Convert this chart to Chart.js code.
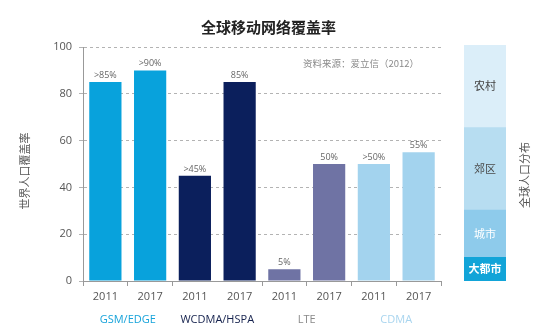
<!DOCTYPE html>
<html>
<head>
<meta charset="utf-8">
<script src="https://cdn.jsdelivr.net/npm/chart.js@4.4.1/dist/chart.umd.min.js"></script>
<style>
  html, body { margin: 0; padding: 0; background: #fff; }
  #wrap { position: relative; width: 547px; height: 326px; }
  #main { position: absolute; left: 0; top: 0; }
  #dist { position: absolute; left: 455px; top: 0; }
</style>
</head>
<body>
<div id="wrap">
  <canvas id="main" width="547" height="326"></canvas>
  <canvas id="dist" width="92" height="326"></canvas>
</div>
<script>
// Coverage of world population by mobile network technology
const years = ['2011', '2017', '2011', '2017', '2011', '2017', '2011', '2017'];
const coverage = [85, 90, 45, 85, 5, 50, 50, 55];
const coverageLabels = ['>85%', '>90%', '>45%', '85%', '5%', '50%', '>50%', '55%'];
const technologies = ['GSM/EDGE', 'WCDMA/HSPA', 'LTE', 'CDMA'];
const yTicks = [0, 20, 40, 60, 80, 100];

// Global population distribution
const regions = ['大都市', '城市', '郊区', '农村'];
const populationShare = [10, 20, 35, 35];

const techBarColors = ['#08a2dc', '#0b1f5c', '#6f73a4', '#a3d3ee'];
const techTextColors = ['#17a3da', '#14214d', '#8a8a8a', '#a9d5ef'];
const regionColors = ['#12a4d8', '#8ecbeb', '#b7ddf1', '#dbeef9'];
const regionTextColors = ['#ffffff', '#ffffff', '#4a4a4a', '#444444'];

const LATIN = '"Open Sans", "Noto Sans CJK SC", sans-serif';
const CJK = '"Noto Sans CJK SC", sans-serif';

function drawVertical(ctx, text, x, y, font, color) {
  ctx.save();
  ctx.translate(x, y);
  ctx.rotate(-Math.PI / 2);
  ctx.font = font;
  ctx.fillStyle = color;
  ctx.textAlign = 'center';
  ctx.textBaseline = 'middle';
  ctx.fillText(text, 0, 0);
  ctx.restore();
}

const coverageNotes = {
  id: 'coverageNotes',
  afterDatasetsDraw(chart) {
    const { ctx, chartArea } = chart;
    const meta = chart.getDatasetMeta(0);
    ctx.save();
    ctx.font = '9px ' + LATIN;
    ctx.fillStyle = '#666';
    ctx.textAlign = 'center';
    ctx.textBaseline = 'bottom';
    meta.data.forEach((bar, i) => ctx.fillText(coverageLabels[i], bar.x, bar.y - 2));
    ctx.font = '9.5px ' + CJK;
    ctx.fillStyle = '#8a8a8a';
    ctx.textAlign = 'left';
    ctx.textBaseline = 'middle';
    ctx.fillText('资料来源：爱立信（2012）', chartArea.left + 220, chartArea.top + 16);
    ctx.restore();
    drawVertical(ctx, '世界人口覆盖率', 25, 171, '11px ' + CJK, '#555');
  }
};

new Chart(document.getElementById('main'), {
  type: 'bar',
  data: {
    labels: years,
    datasets: [{
      data: coverage,
      backgroundColor: coverage.map((v, i) => techBarColors[Math.floor(i / 2)]),
      borderWidth: 0,
      barPercentage: 0.72,
      categoryPercentage: 1
    }]
  },
  options: {
    responsive: false,
    animation: false,
    layout: { padding: { left: 0, right: 10, top: 0, bottom: 0 } },
    plugins: {
      legend: { display: false },
      tooltip: { enabled: false },
      title: {
        display: true,
        text: '全球移动网络覆盖率',
        color: '#222',
        font: { family: CJK, size: 15, weight: 'bold', lineHeight: 1.2 },
        padding: { top: 18, bottom: 11 }
      }
    },
    scales: {
      x: {
        position: 'bottom',
        grid: {
          drawOnChartArea: false,
          drawTicks: true,
          tickLength: 5,
          offset: true,
          color: (c) => (c.index === 3 ? 'rgba(0,0,0,0)' : '#999')
        },
        border: { color: '#999', width: 1 },
        ticks: { color: '#555', font: { family: LATIN, size: 11 }, padding: 4 },
        afterFit: (s) => { s.height = 26; }
      },
      x2: {
        type: 'category',
        labels: technologies,
        position: 'bottom',
        offset: true,
        grid: { display: false, drawTicks: false },
        border: { display: false },
        ticks: {
          color: (c) => techTextColors[c.index],
          font: { family: LATIN, size: 11 },
          padding: 6
        },
        afterFit: (s) => { s.height = 19; }
      },
      y: {
        min: 0,
        max: 100,
        afterBuildTicks: (s) => { s.ticks = yTicks.map((v) => ({ value: v })); },
        grid: { color: '#b3b3b3', tickLength: 4, drawTicks: true },
        border: { display: true, color: '#999', dash: [3, 3] },
        ticks: { color: '#555', font: { family: LATIN, size: 11 }, padding: 7 },
        afterFit: (s) => { s.width = 83; }
      },
      yPad: {
        type: 'linear',
        position: 'right',
        grid: { display: false },
        border: { display: false },
        ticks: { display: false },
        afterFit: (s) => { s.width = 96; }
      }
    }
  },
  plugins: [coverageNotes]
});

const regionNotes = {
  id: 'regionNotes',
  afterDatasetsDraw(chart) {
    const { ctx, chartArea } = chart;
    ctx.save();
    ctx.textAlign = 'center';
    ctx.textBaseline = 'middle';
    chart.data.datasets.forEach((ds, i) => {
      const bar = chart.getDatasetMeta(i).data[0];
      ctx.font = (i === 0 ? 'bold ' : '') + '11px ' + CJK;
      ctx.fillStyle = regionTextColors[i];
      ctx.fillText(regions[i], bar.x, (bar.y + bar.base) / 2);
    });
    ctx.restore();
    drawVertical(ctx, '全球人口分布', chartArea.right + 19, 175, '11px ' + CJK, '#555');
  }
};

new Chart(document.getElementById('dist'), {
  type: 'bar',
  data: {
    labels: [''],
    datasets: regions.map((r, i) => ({
      label: r,
      data: [populationShare[i]],
      backgroundColor: regionColors[i],
      borderWidth: 0,
      barPercentage: 1,
      categoryPercentage: 1
    }))
  },
  options: {
    responsive: false,
    animation: false,
    layout: { padding: { left: 9, right: 41, top: 45, bottom: 45 } },
    plugins: { legend: { display: false }, tooltip: { enabled: false } },
    scales: {
      x: { display: false, stacked: true },
      y: { display: false, stacked: true, min: 0, max: 100 }
    }
  },
  plugins: [regionNotes]
});
</script>
</body>
</html>
